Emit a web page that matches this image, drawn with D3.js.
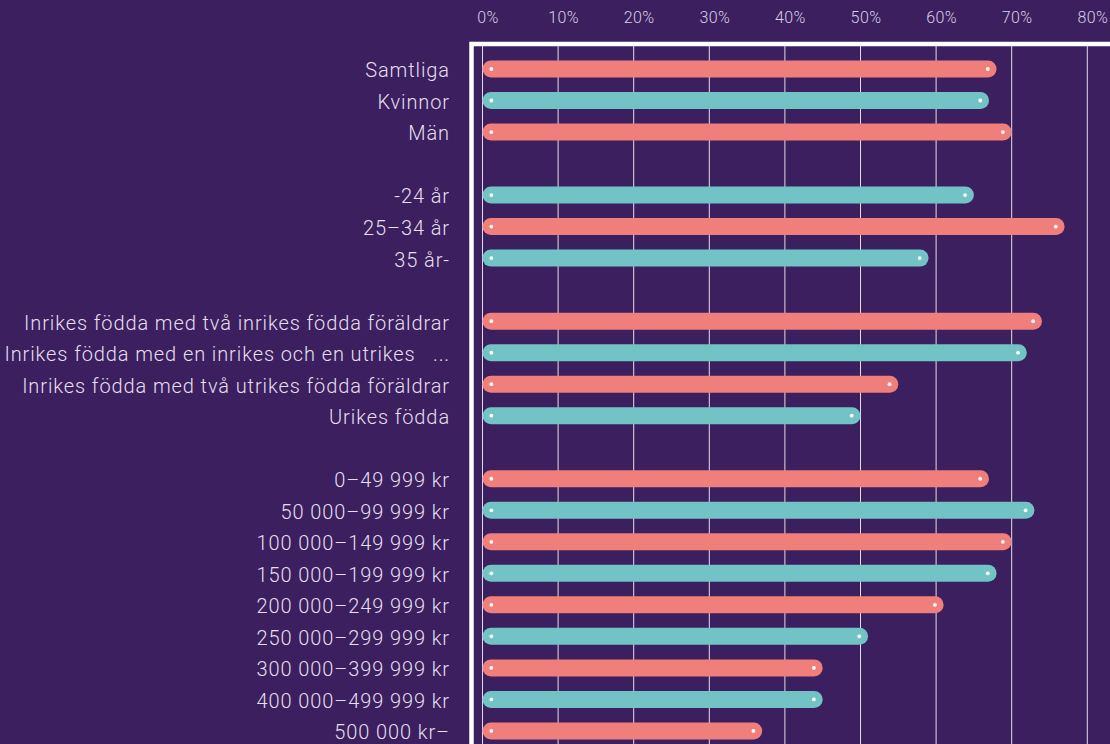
<!DOCTYPE html>
<html>
<head>
<meta charset="utf-8">
<script src="https://cdn.jsdelivr.net/npm/d3@7"></script>
<style>
  html, body { margin: 0; padding: 0; background: #3b1f5e; overflow: hidden; }
  svg { display: block; }
</style>
</head>
<body>
<svg id="chart" width="1110" height="744"></svg>
<script>
// ---- data ----
const groups = [
  ["Samtliga", "Kvinnor", "Män"],
  ["-24 år", "25–34 år", "35 år-"],
  ["Inrikes födda med två inrikes födda föräldrar", "Inrikes födda med en inrikes och en utrikes   ...", "Inrikes födda med två utrikes födda föräldrar", "Urikes födda"],
  ["0–49 999 kr", "50 000–99 999 kr", "100 000–149 999 kr", "150 000–199 999 kr", "200 000–249 999 kr", "250 000–299 999 kr", "300 000–399 999 kr", "400 000–499 999 kr", "500 000 kr–"]
];
const values = [
  [68, 67, 70],
  [65, 77, 59],
  [74, 72, 55, 50],
  [67, 73, 70, 68, 61, 51, 45, 45, 37]
];
const tickValues = [0, 10, 20, 30, 40, 50, 60, 70, 80];
const tickLabels = ["0%", "10%", "20%", "30%", "40%", "50%", "60%", "70%", "80%"];
const colors = ["#f07f7c", "#72c3c6"];

// ---- build rows (with spacer rows between groups) ----
const rows = [];
let k = 0, slot = 0;
groups.forEach((g, gi) => {
  g.forEach((label, j) => {
    rows.push({ label, value: values[gi][j], slot, idx: k });
    k++; slot++;
  });
  slot++; // spacer
});
const nSlots = slot - 1;

const svg = d3.select("#chart");
const W = 1110, H = 744;

const x = d3.scaleLinear().domain([0, 80]).range([482.5, 1087.3]);
const step = 31.52;
const y = d3.scaleBand().domain(d3.range(nSlots)).range([69 - step / 2, 69 - step / 2 + nSlots * step]).padding(0);

// frame
svg.append("rect")
  .attr("x", 471.5).attr("y", 44)
  .attr("width", 800).attr("height", 900)
  .attr("fill", "none")
  .attr("stroke", "#ffffff")
  .attr("stroke-width", 4.5);

// gridlines
svg.append("g").selectAll("line")
  .data(tickValues.concat([90]))
  .join("line")
  .attr("x1", d => x(d)).attr("x2", d => x(d))
  .attr("y1", 46).attr("y2", H)
  .attr("stroke", "#ffffff")
  .attr("stroke-opacity", 0.85)
  .attr("stroke-width", 1);

// top axis labels
const axis = d3.axisTop(x).tickValues(tickValues).tickSize(0).tickFormat((d, i) => tickLabels[i]);
const ag = svg.append("g").attr("transform", "translate(5,25.5)").call(axis);
ag.select(".domain").remove();
ag.selectAll("text")
  .attr("dy", 0)
  .attr("fill", "#d9cfe6")
  .style("font-family", "Roboto, 'Noto Sans', sans-serif")
  .style("font-weight", 300)
  .style("letter-spacing", "0.4px")
  .style("font-size", "16px");

// bars
const barH = 17;
const bars = svg.append("g");
bars.selectAll("rect")
  .data(rows)
  .join("rect")
  .attr("x", x(0))
  .attr("y", d => y(d.slot) + y.bandwidth() / 2 - barH / 2)
  .attr("width", d => x(d.value) - x(0))
  .attr("height", barH)
  .attr("rx", barH / 2).attr("ry", barH / 2)
  .attr("fill", d => colors[d.idx % 2]);

// dots
bars.selectAll("circle.s")
  .data(rows)
  .join("circle").attr("class", "s")
  .attr("cx", x(0) + 8.8)
  .attr("cy", d => y(d.slot) + y.bandwidth() / 2)
  .attr("r", 1.9).attr("fill", "#ffffff");
bars.selectAll("circle.e")
  .data(rows)
  .join("circle").attr("class", "e")
  .attr("cx", d => x(d.value) - 8.8)
  .attr("cy", d => y(d.slot) + y.bandwidth() / 2)
  .attr("r", 1.9).attr("fill", "#ffffff");

// labels
svg.append("g").selectAll("text")
  .data(rows)
  .join("text")
  .attr("x", 450)
  .attr("y", d => y(d.slot) + y.bandwidth() / 2)
  .attr("dy", "0.42em")
  .attr("text-anchor", "end")
  .attr("fill", "#e6dfef")
  .style("font-family", "Roboto, 'Noto Sans', sans-serif")
  .style("font-weight", 300)
  .style("font-size", "20px")
  .style("letter-spacing", "0.9px")
  .style("white-space", "pre")
  .text(d => d.label);
</script>
</body>
</html>
